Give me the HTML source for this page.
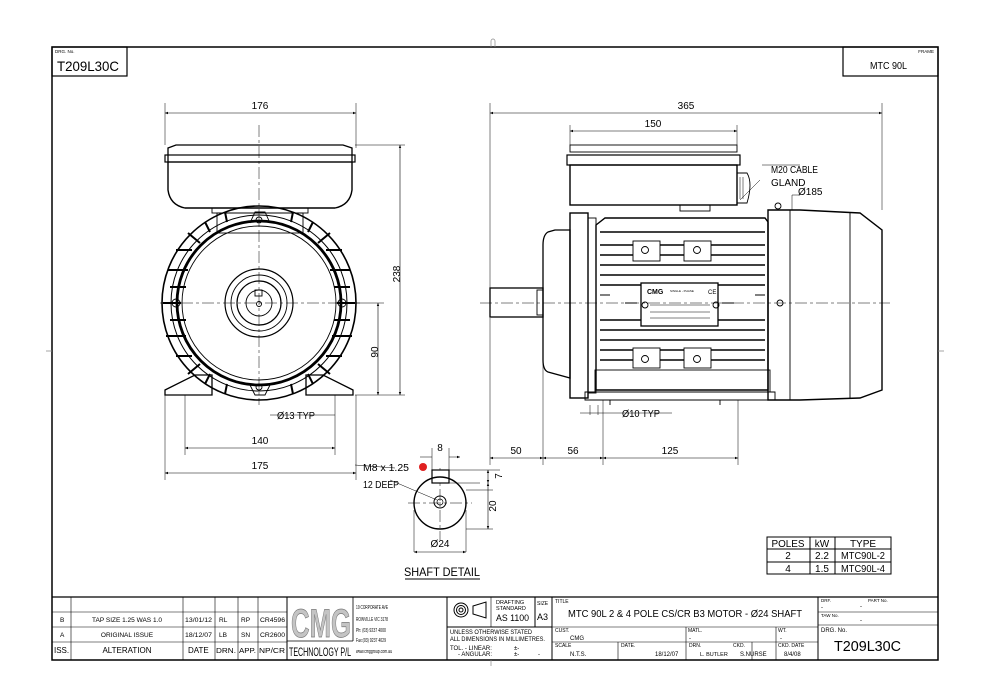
<!DOCTYPE html>
<html><head><meta charset="utf-8"><style>
html,body{margin:0;padding:0;background:#fff;}
svg{display:block;font-family:"Liberation Sans",Arial,sans-serif;}
</style></head><body>
<svg width="991" height="700" viewBox="0 0 991 700" xmlns="http://www.w3.org/2000/svg">
<defs>
<marker id="a" viewBox="0 0 10 10" refX="10" refY="5" markerWidth="7" markerHeight="5" orient="auto-start-reverse"><path d="M0,1 L10,5 L0,9 z" fill="#000"/></marker>
</defs>
<rect width="991" height="700" fill="#fff"/>
<rect x="52" y="47" width="886" height="613" fill="none" stroke="#000" stroke-width="1.5"/>
<rect x="52" y="47" width="75" height="29" fill="none" stroke="#000" stroke-width="1.2"/>
<text x="55" y="53" font-size="4.5">DRG. No.</text>
<text x="57" y="71" font-size="14" textLength="62" lengthAdjust="spacingAndGlyphs">T209L30C</text>
<rect x="843" y="47" width="95" height="29" fill="none" stroke="#000" stroke-width="1.2"/>
<text x="934" y="53" font-size="4.5" text-anchor="end">FRAME</text>
<text x="870" y="69" font-size="10" textLength="37" lengthAdjust="spacingAndGlyphs">MTC 90L</text>
<path d="M491,47 v-6 a2,2 0 0 1 4,0 v6 M52,351 h-6 M938,351 h6 M491,660 v6" stroke="#888" fill="none" stroke-width="0.7"/>

<g stroke="#000" fill="none" stroke-width="0.9">
<!-- FRONT VIEW -->
<path d="M168,148 L176,145 L343,145 L352,148 L352,162 L168,162 z" stroke-width="1.3"/>
<rect x="165" y="155" width="190" height="7" stroke-width="1.2"/>
<path d="M168,162 L168,190 Q170,205 185,208 L335,208 Q350,205 352,190 L352,162" stroke-width="1.4"/>
<rect x="212" y="208" width="96" height="5"/>
<rect x="217" y="213" width="86" height="20"/>
<path d="M250,223 L255,212 L265,212 L270,223" />
<circle cx="259" cy="220" r="3"/>
<circle cx="259" cy="303" r="97" stroke-width="1.6"/>
<circle cx="259" cy="303" r="88" stroke-width="1"/>
<circle cx="259" cy="303" r="82" stroke-width="2.8"/>
<circle cx="259" cy="303" r="77"/>
<g stroke-width="2">
<path d="M163,303 h18 M337,303 h18 M168,270 h20 M166,336 h20 M330,270 h20 M332,336 h20 M176,250 h16 M326,250 h16 M176,356 h16 M326,356 h16 M170,287 h16 M334,287 h16 M170,320 h16 M334,320 h16 M188,233 l12,10 M330,233 l-12,10 M188,374 l12,-10 M330,374 l-12,-10 M205,222 l5,10 M313,222 l-5,10 M205,384 l5,-10 M313,384 l-5,-10 M225,212 l2,10 M293,212 l-2,10 M225,394 l2,-10 M293,394 l-2,-10"/>
</g>
<circle cx="176" cy="303" r="4"/><circle cx="342" cy="303" r="4"/>
<circle cx="259" cy="303" r="34" stroke-width="1.2"/>
<circle cx="259" cy="303" r="28"/>
<circle cx="259" cy="303" r="22" stroke-width="1.2"/>
<circle cx="259" cy="303" r="13"/>
<rect x="255" y="290" width="7" height="6"/>
<circle cx="259" cy="304" r="2.5"/>
<path d="M165,390 L195,375 L212,375 L212,395 L165,395 z M353,390 L323,375 L306,375 L306,395 L353,395 z" stroke-width="1.3"/>
<path d="M250,385 L255,395 L265,395 L270,385"/>
<circle cx="259" cy="387" r="3"/>

<!-- SIDE VIEW -->
<rect x="570" y="145" width="167" height="7"/>
<rect x="567" y="155" width="173" height="10" stroke-width="1.2"/>
<rect x="570" y="165" width="167" height="40" stroke-width="1.4"/>
<path d="M737,173 h10 q6,10 0,30 h-10"/>
<path d="M740,177 v22 M743,177 v22" stroke-width="0.5"/>
<rect x="680" y="205" width="30" height="6"/>
<rect x="490" y="288" width="53" height="29" stroke-width="1.3"/>
<rect x="537" y="290" width="6" height="25"/>
<path d="M555,230 L548,232 Q543,235 543,245 L543,360 Q543,370 548,372 L570,378 L570,230 z" stroke-width="1.3"/>
<rect x="570" y="213" width="18" height="185" stroke-width="1.4"/>
<rect x="588" y="218" width="8" height="175"/>
<path d="M596,225 L605,218 L765,218 L768,222 L768,390 L596,390 z" stroke-width="1.4"/>
<g stroke-width="1.6">
<path d="M600,245 h165 M600,255 h165 M600,265 h165 M600,275 h165 M600,285 h165 M600,320 h165 M600,330 h165 M600,340 h165 M600,350 h165 M600,360 h165 M600,232 h165"/>
</g>
<rect x="633" y="241" width="27" height="20" fill="#fff"/><rect x="684" y="241" width="27" height="20" fill="#fff"/>
<rect x="633" y="348" width="27" height="20" fill="#fff"/><rect x="684" y="348" width="27" height="20" fill="#fff"/>
<circle cx="645" cy="250" r="3.5"/><circle cx="697" cy="250" r="3.5"/><circle cx="645" cy="359" r="3.5"/><circle cx="697" cy="359" r="3.5"/>
<rect x="641" y="283" width="77" height="43" fill="#fff" stroke-width="1.3"/>
<path d="M650,305 h60 M650,312 h60 M650,318 h60" stroke-width="0.5"/>
<path d="M625,303 h12 M722,303 h12 M600,295 l10,0 M755,295 h10"/>
<circle cx="645" cy="305" r="3"/><circle cx="716" cy="305" r="3"/>
<rect x="595" y="370" width="175" height="22"/>
<path d="M585,392 h190 v8 h-190 z M610,400 v5 M720,400 v5"/>
<path d="M768,210 L800,210 L860,213 L882,230 L882,390 L860,398 L800,400 L768,400 z" stroke-width="1.4"/>
<path d="M790,210 v190 M850,213 v185"/>
<circle cx="780" cy="303" r="3"/>
<circle cx="778" cy="206" r="3"/>
</g>

<g stroke="#000" stroke-width="0.5" stroke-dasharray="12,3,3,3" fill="none">
<path d="M160,303 H360 M259,125 V405 M480,303 H890 M440,468 V540 M408,503 H472"/>
</g>

<g stroke="#000" stroke-width="0.5" fill="none">
<path d="M165,103 V145 M356,103 V148 M490,103 V288 M882,103 V210 M570,125 V145 M737,125 V145"/>
<path d="M355,145 H405 M355,395 H405 M335,303 H384 M165,395 V480 M356,395 V480 M185,395 V455 M335,395 V455"/>
<path d="M490,318 V465 M543,318 V465 M603,400 V465 M738,400 V465"/>
<path d="M590,405 V415 M598,405 V415 M580,413 H672 M270,415 H335"/>
<path d="M432,470 V448 M449,470 V448 M449,470 H500 M466,490 H493 M449,483 H480 M466,529 H493 M414,510 V552 M466,510 V552"/>
<path d="M792,210 V195 H800 M760,180 L740,200 M762,165 H800"/>
<path d="M390,480 L437,500 M355,465 L395,468"/>
</g>
<g stroke="#000" stroke-width="0.6" fill="none" marker-start="url(#a)" marker-end="url(#a)">
<path d="M165,113 H356"/>
<path d="M490,113 H882"/>
<path d="M570,131 H737"/>
<path d="M400,145 V395"/>
<path d="M378,303 V395"/>
<path d="M185,448 H335"/>
<path d="M165,473 H356"/>
<path d="M490,458 H543"/>
<path d="M543,458 H603"/>
<path d="M603,458 H738"/>
<path d="M488,470 V483"/>
<path d="M488,483 V529"/>
<path d="M414,552 H466"/>
</g>
<path d="M420,457 H432 M449,457 H460" stroke="#000" stroke-width="0.6" marker-end="url(#a)"/>
<rect x="432" y="470" width="17" height="13" fill="#fff" stroke="#000" stroke-width="1.2"/>
<circle cx="440" cy="503" r="26" fill="none" stroke="#000" stroke-width="1.4"/>
<circle cx="440" cy="502" r="6" fill="none" stroke="#000" stroke-width="1"/>
<circle cx="440" cy="502" r="3" fill="none" stroke="#000" stroke-width="0.7"/>

<g font-size="10" fill="#000">
<text x="260" y="109" text-anchor="middle">176</text>
<text x="686" y="109" text-anchor="middle">365</text>
<text x="653" y="127" text-anchor="middle">150</text>
<text x="396" y="278" text-anchor="middle" transform="rotate(-90 396 274)">238</text>
<text x="374" y="356" text-anchor="middle" transform="rotate(-90 374 352)">90</text>
<text x="277" y="419" textLength="38" lengthAdjust="spacingAndGlyphs">Ø13 TYP</text>
<text x="260" y="444" text-anchor="middle">140</text>
<text x="260" y="469" text-anchor="middle">175</text>
<text x="516" y="454" text-anchor="middle">50</text>
<text x="573" y="454" text-anchor="middle">56</text>
<text x="670" y="454" text-anchor="middle">125</text>
<text x="622" y="417" textLength="38" lengthAdjust="spacingAndGlyphs">Ø10 TYP</text>
<text x="771" y="173" textLength="47" lengthAdjust="spacingAndGlyphs">M20 CABLE</text>
<text x="771" y="186">GLAND</text>
<text x="798" y="195">Ø185</text>
<text x="440" y="451" text-anchor="middle">8</text>
<text x="500" y="480" text-anchor="middle" transform="rotate(-90 499 477)">7</text>
<text x="494" y="510" text-anchor="middle" transform="rotate(-90 493 507)">20</text>
<text x="440" y="547" text-anchor="middle">Ø24</text>
<text x="363" y="471" textLength="46" lengthAdjust="spacingAndGlyphs">M8 x 1.25</text>
<text x="363" y="488" textLength="36" lengthAdjust="spacingAndGlyphs">12 DEEP</text>
<text x="442" y="576" text-anchor="middle" font-size="12" textLength="76" lengthAdjust="spacingAndGlyphs">SHAFT DETAIL</text>
</g>
<circle cx="423" cy="467" r="4" fill="#e02020"/>
<path d="M405,579 H480" stroke="#000" stroke-width="1"/>

<text x="647" y="294" font-size="7" font-weight="bold">CMG</text>
<text x="670" y="292" font-size="3">SINGLE - PHASE</text>
<text x="708" y="294" font-size="6">CE</text>

<g stroke="#000" stroke-width="1" fill="none">
<rect x="767" y="537" width="124" height="37"/>
<path d="M767,549 H891 M767,562 H891 M810,537 V574 M835,537 V574"/>
</g>
<g font-size="10" text-anchor="middle">
<text x="788" y="547" textLength="33" lengthAdjust="spacingAndGlyphs">POLES</text><text x="822" y="547">kW</text><text x="863" y="547">TYPE</text>
<text x="788" y="559">2</text><text x="822" y="559">2.2</text><text x="863" y="559" textLength="44" lengthAdjust="spacingAndGlyphs">MTC90L-2</text>
<text x="788" y="572">4</text><text x="822" y="572">1.5</text><text x="863" y="572" textLength="44" lengthAdjust="spacingAndGlyphs">MTC90L-4</text>
</g>

<g stroke="#000" fill="none" stroke-width="1">
<path d="M52,597 H938" stroke-width="1.3"/>
<path d="M52,612 H287 M52,627 H287 M52,642 H287" stroke-width="0.6"/>
<path d="M71,597 V660 M183,597 V660 M215,597 V660 M238,597 V660 M258,597 V660 M287,597 V660" stroke-width="0.6"/>
<path d="M287,597 V660 M447,597 V660 M535,597 V627 M552,597 V627 M447,627 H552 M552,597 V660 M818,597 V660" stroke-width="1"/>
<path d="M491,597 V627" stroke-width="0.6"/>
<path d="M287,641 H353 M353,597 V641" stroke-width="0.8"/>
<path d="M552,627 H818 M552,642 H818 M618,642 V660 M686,627 V660 M752,642 V660 M818,612 H938 M818,625 H938 M776,627 V660" stroke-width="0.6"/>
<circle cx="461" cy="610" r="7"/><circle cx="461" cy="610" r="4.5"/><circle cx="461" cy="610" r="2"/>
<path d="M473,606 L486,602 L486,618 L473,614 z"/>
</g>
<g font-size="6.5" fill="#000">
<text x="60" y="622">B</text><text x="127" y="622" text-anchor="middle">TAP SIZE 1.25 WAS 1.0</text><text x="185" y="622" textLength="27" lengthAdjust="spacingAndGlyphs">13/01/12</text><text x="219" y="622">RL</text><text x="241" y="622">RP</text><text x="260" y="622" textLength="25" lengthAdjust="spacingAndGlyphs">CR4596</text>
<text x="60" y="637">A</text><text x="127" y="637" text-anchor="middle">ORIGINAL ISSUE</text><text x="185" y="637" textLength="27" lengthAdjust="spacingAndGlyphs">18/12/07</text><text x="219" y="637">LB</text><text x="241" y="637">SN</text><text x="260" y="637" textLength="25" lengthAdjust="spacingAndGlyphs">CR2600</text>
<text x="54" y="653" font-size="8">ISS.</text><text x="127" y="653" text-anchor="middle" font-size="8">ALTERATION</text><text x="188" y="653" font-size="8">DATE</text><text x="216" y="653" font-size="7" textLength="20" lengthAdjust="spacingAndGlyphs">DRN.</text><text x="239" y="653" font-size="7" textLength="17" lengthAdjust="spacingAndGlyphs">APP.</text><text x="259" y="653" font-size="7" textLength="26" lengthAdjust="spacingAndGlyphs">NP/CR</text>
<text x="291" y="637" font-size="40" font-weight="bold" fill="#c4c4c4" stroke="#777" stroke-width="0.7" textLength="60" lengthAdjust="spacingAndGlyphs">CMG</text>
<text x="289" y="656" font-size="12" textLength="62" lengthAdjust="spacingAndGlyphs">TECHNOLOGY P/L</text>
<text x="356" y="609" font-size="5" textLength="32" lengthAdjust="spacingAndGlyphs">19 CORPORATE AVE</text>
<text x="356" y="621" font-size="5" textLength="32" lengthAdjust="spacingAndGlyphs">ROWVILLE VIC 3178</text>
<text x="356" y="632" font-size="5" textLength="30" lengthAdjust="spacingAndGlyphs">Ph: (03) 9237 4000</text>
<text x="356" y="642" font-size="5" textLength="30" lengthAdjust="spacingAndGlyphs">Fax:(03) 9237 4029</text>
<text x="356" y="653" font-size="5" textLength="36" lengthAdjust="spacingAndGlyphs">www.cmggroup.com.au</text>
<text x="496" y="604" font-size="5.5">DRAFTING</text><text x="496" y="610" font-size="5.5">STANDARD</text><text x="496" y="621" font-size="9" textLength="33" lengthAdjust="spacingAndGlyphs">AS 1100</text>
<text x="537" y="605" font-size="5">SIZE</text><text x="537" y="620" font-size="9">A3</text>
<text x="450" y="634" font-size="6" textLength="82" lengthAdjust="spacingAndGlyphs">UNLESS OTHERWISE STATED</text>
<text x="450" y="641" font-size="6" textLength="95" lengthAdjust="spacingAndGlyphs">ALL DIMENSIONS IN MILLIMETRES.</text>
<text x="450" y="650" font-size="6">TOL.  - LINEAR:</text><text x="458" y="656" font-size="6">- ANGULAR:</text>
<text x="514" y="650" font-size="6">±-</text><text x="514" y="656" font-size="6">±-</text><text x="538" y="656" font-size="6">-</text>
<text x="555" y="603" font-size="5">TITLE</text>
<text x="568" y="617" font-size="10" textLength="234" lengthAdjust="spacingAndGlyphs">MTC 90L   2 &amp; 4 POLE   CS/CR   B3 MOTOR - Ø24 SHAFT</text>
<text x="555" y="632" font-size="5">CUST.</text><text x="570" y="640" font-size="6">CMG</text>
<text x="688" y="632" font-size="5">MATL.</text><text x="689" y="640" font-size="6">-</text>
<text x="778" y="632" font-size="5">WT.</text><text x="780" y="640" font-size="6">-</text>
<text x="555" y="647" font-size="5">SCALE</text><text x="570" y="656" font-size="6">N.T.S.</text>
<text x="621" y="647" font-size="5">DATE.</text><text x="655" y="656" font-size="6">18/12/07</text>
<text x="689" y="647" font-size="5">DRN.</text><text x="700" y="656" font-size="5.5">L. BUTLER</text>
<text x="733" y="647" font-size="5">CKD.</text><text x="740" y="656" font-size="6">S.NURSE</text>
<text x="778" y="647" font-size="5">CKD. DATE</text><text x="784" y="656" font-size="6">8/4/08</text>
<text x="821" y="602" font-size="4.5">DRF.</text><text x="868" y="602" font-size="4.5">PART No.</text>
<text x="821" y="609" font-size="6">-</text><text x="860" y="608" font-size="6">-</text>
<text x="821" y="617" font-size="4.5">TAW No.</text><text x="860" y="622" font-size="6">-</text>
<text x="821" y="632" font-size="6">DRG. No.</text>
<text x="834" y="651" font-size="15" textLength="67" lengthAdjust="spacingAndGlyphs">T209L30C</text>
</g>
</svg>
</body></html>
